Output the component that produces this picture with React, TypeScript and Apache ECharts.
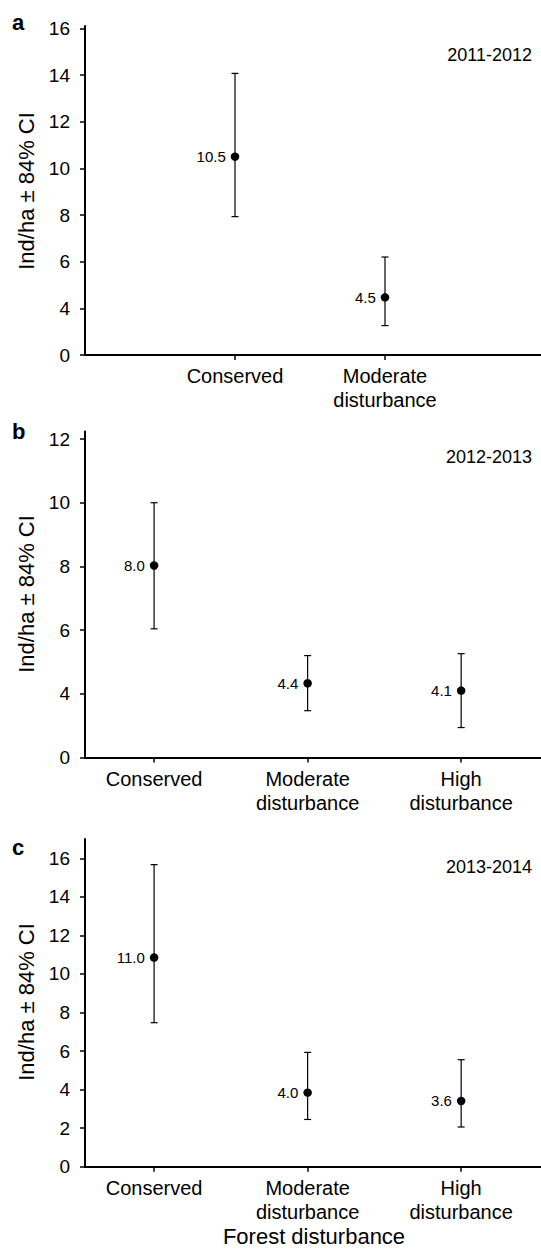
import React, { useEffect, useRef } from "react";
import * as echarts from "echarts";

// ---- data ----
const panelLetters = ["a", "b", "c"];
const periods = ["2011-2012", "2012-2013", "2013-2014"];

const catsA = ["Conserved", "Moderate\ndisturbance"];
const catsBC = ["Conserved", "Moderate\ndisturbance", "High\ndisturbance"];

const meanA = [10.5, 4.47];
const lowA = [7.93, 3.26];
const highA = [14.07, 6.2];
const labelA = ["10.5", "4.5"];

const meanB = [8.03, 4.33, 4.1];
const lowB = [6.04, 3.47, 2.94];
const highB = [10.0, 5.2, 5.26];
const labelB = ["8.0", "4.4", "4.1"];

const meanC = [10.85, 3.84, 3.41];
const lowC = [7.47, 2.45, 2.06];
const highC = [15.67, 5.93, 5.55];
const labelC = ["11.0", "4.0", "3.6"];

// y tick positions and their printed labels
const yTicksA = [2, 4, 6, 8, 10, 12, 14, 16];
const yTickLabelsA = ["0", "4", "6", "8", "10", "12", "14", "16"];
const yTicksB = [2, 4, 6, 8, 10, 12];
const yTickLabelsB = ["0", "4", "6", "8", "10", "12"];
const yTicksC = [0, 2, 4, 6, 8, 10, 12, 14, 16];
const yTickLabelsC = ["0", "2", "4", "6", "8", "10", "12", "14", "16"];

const yTitle = "Ind/ha \u00b1 84% CI";
const xTitle = "Forest disturbance";

const FONT = "'Liberation Sans', Arial, Helvetica, sans-serif";

export default function App() {
  const ref = useRef<HTMLDivElement>(null);

  useEffect(() => {
    if (!ref.current) return;
    const chart = echarts.init(ref.current, undefined, { renderer: "svg" });

    const panels = [
      { cats: catsA, mean: meanA, low: lowA, high: highA, labels: labelA, ticks: yTicksA, tickLabels: yTickLabelsA, ymin: 2, ymax: 16.1, xmin: 0, xmax: 3.04, grid: { top: 26, height: 329 } },
      { cats: catsBC, mean: meanB, low: lowB, high: highB, labels: labelB, ticks: yTicksB, tickLabels: yTickLabelsB, ymin: 2, ymax: 12.24, xmin: 0.55, xmax: 3.52, grid: { top: 431.4, height: 326.1 } },
      { cats: catsBC, mean: meanC, low: lowC, high: highC, labels: labelC, ticks: yTicksC, tickLabels: yTickLabelsC, ymin: 0, ymax: 17, xmin: 0.55, xmax: 3.52, grid: { top: 839, height: 327.7 } },
    ];

    const grids = panels.map((p) => ({ left: 85, width: 456, top: p.grid.top, height: p.grid.height }));

    const xAxes = panels.map((p, i) => {
      const xs = p.cats.map((_, k) => k + 1);
      return {
        type: "value",
        gridIndex: i,
        min: p.xmin,
        max: p.xmax,
        axisLine: { show: true, onZero: false, lineStyle: { color: "#000", width: 2 } },
        axisTick: { show: true, length: 5, lineStyle: { color: "#000", width: 1.5 }, customValues: xs },
        axisLabel: {
          show: true,
          customValues: xs,
          formatter: (v: number) => p.cats[Math.round(v) - 1] ?? "",
          fontFamily: FONT,
          fontSize: 20,
          lineHeight: 24,
          color: "#000",
          margin: 9,
        },
        splitLine: { show: false },
      };
    });

    const yAxes = panels.map((p, i) => ({
      type: "value",
      gridIndex: i,
      min: p.ymin,
      max: p.ymax,
      axisLine: { show: true, onZero: false, lineStyle: { color: "#000", width: 2 } },
      axisTick: { show: true, length: 5, lineStyle: { color: "#000", width: 1.5 }, customValues: p.ticks },
      axisLabel: {
        show: true,
        customValues: p.ticks,
        formatter: (v: number) => {
          const idx = p.ticks.indexOf(Math.round(v));
          return idx >= 0 ? p.tickLabels[idx] : "";
        },
        fontFamily: FONT,
        fontSize: 19,
        color: "#000",
        margin: 15,
      },
      splitLine: { show: false },
    }));

    const series: any[] = [];
    panels.forEach((p, i) => {
      series.push({
        type: "custom",
        xAxisIndex: i,
        yAxisIndex: i,
        z: 2,
        data: p.cats.map((_, k) => [k + 1, p.low[k], p.high[k]]),
        renderItem: (params: any, api: any) => {
          const x = api.value(0);
          const top = api.coord([x, api.value(2)]);
          const bot = api.coord([x, api.value(1)]);
          const cw = 3.5;
          const st = { stroke: "#000", lineWidth: 1.2 };
          return {
            type: "group",
            children: [
              { type: "line", shape: { x1: top[0], y1: top[1], x2: bot[0], y2: bot[1] }, style: st },
              { type: "line", shape: { x1: top[0] - cw, y1: top[1], x2: top[0] + cw, y2: top[1] }, style: st },
              { type: "line", shape: { x1: bot[0] - cw, y1: bot[1], x2: bot[0] + cw, y2: bot[1] }, style: st },
            ],
          };
        },
      });
      series.push({
        type: "scatter",
        xAxisIndex: i,
        yAxisIndex: i,
        z: 3,
        symbol: "circle",
        symbolSize: 8.5,
        itemStyle: { color: "#000", opacity: 1 },
        data: p.cats.map((_, k) => [k + 1, p.mean[k]]),
        label: {
          show: true,
          position: "left",
          distance: 5,
          formatter: (prm: any) => p.labels[prm.dataIndex],
          fontFamily: FONT,
          fontSize: 15,
          color: "#000",
        },
      });
    });

    const letterY = [22, 431.5, 847];
    const periodY = [55, 457.3, 866.7];
    const titleY = [191, 594, 1002];

    const graphics: any[] = [];
    panels.forEach((_, i) => {
      graphics.push({
        type: "text",
        x: 12,
        y: letterY[i],
        style: { text: panelLetters[i], font: `bold 22px ${FONT}`, fill: "#000", align: "left", verticalAlign: "middle", textAlign: "left", textVerticalAlign: "middle" },
      });
      graphics.push({
        type: "text",
        x: 532,
        y: periodY[i],
        style: { text: periods[i], font: `18px ${FONT}`, fill: "#000", align: "right", verticalAlign: "middle", textAlign: "right", textVerticalAlign: "middle" },
      });
      graphics.push({
        type: "text",
        x: 26,
        y: titleY[i],
        rotation: Math.PI / 2,
        style: { text: yTitle, font: `22px ${FONT}`, fill: "#000", align: "center", verticalAlign: "middle", textAlign: "center", textVerticalAlign: "middle" },
      });
    });
    graphics.push({
      type: "text",
      x: 314,
      y: 1236,
      style: { text: xTitle, font: `22px ${FONT}`, fill: "#000", align: "center", verticalAlign: "middle", textAlign: "center", textVerticalAlign: "middle" },
    });

    chart.setOption({
      animation: false,
      backgroundColor: "#fff",
      grid: grids,
      xAxis: xAxes,
      yAxis: yAxes,
      series,
      graphic: graphics,
    });

    return () => chart.dispose();
  }, []);

  return (
    <div
      ref={ref}
      style={{ position: "absolute", left: 0, top: 0, width: 541, height: 1252, background: "#fff" }}
    />
  );
}
